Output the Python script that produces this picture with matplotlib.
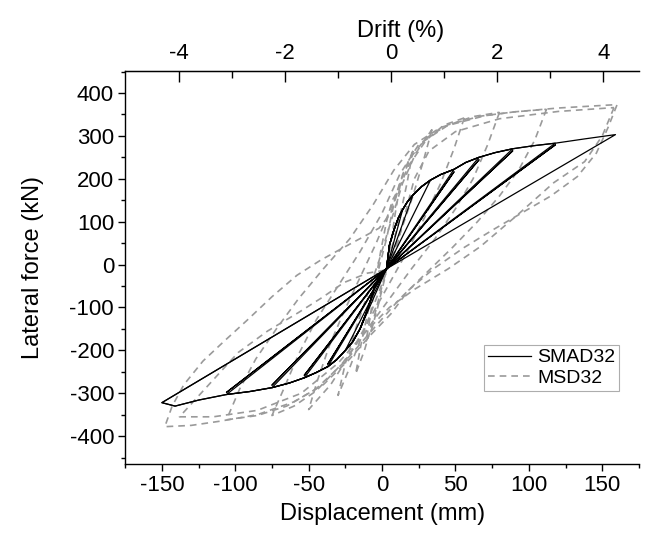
import numpy as np
import matplotlib
matplotlib.use("Agg")
import matplotlib.pyplot as plt
from matplotlib.ticker import MultipleLocator, FixedLocator

plt.rcParams['font.family'] = ['Liberation Sans', 'DejaVu Sans']
plt.rcParams['axes.unicode_minus'] = False

# SMAD32: skeleton (envelope) points, displacement mm / force kN
smad_center = (3, -10)
smad_env_pos_d = [5, 8, 11, 14, 17, 21, 27, 33, 40, 49, 57, 66, 77, 89, 103, 118, 138, 159]
smad_env_pos_f = [45, 80, 108, 128, 145, 162, 182, 197, 210, 222, 238, 250, 261, 270, 277, 283, 293, 303]
smad_env_neg_d = [-5, -8, -11, -15, -20, -25, -31, -37, -45, -53, -63, -75, -90, -106, -125, -141, -150]
smad_env_neg_f = [-50, -85, -115, -150, -180, -200, -222, -238, -252, -264, -276, -287, -296, -303, -316, -330, -322]
# envelope points reached in each cycle (positive, negative)
smad_cycle_pos = [4, 6, 8, 10, 12, 14, 16, 18]
smad_cycle_neg = [4, 6, 8, 10, 12, 14, 17, 17]
# repeated cycles: peak force of the second run at the same amplitude
smad_repeat_pos = [(49, 216), (66, 244), (89, 265), (118, 279)]
smad_repeat_neg = [(-37, -232), (-53, -258), (-75, -281), (-106, -298)]

# MSD32: loops read point by point
msd_loops = [
    [(12, 180), (9, 120), (6, 50), (2, -30), (-3, -100), (-7, -150), (-11, -180), (-8, -120),
     (-5, -50), (-1, 30), (3, 100), (7, 150), (12, 180)],
    [(21, 265), (17, 190), (12, 110), (6, 30), (0, -50), (-6, -130), (-12, -200), (-18, -255),
     (-14, -180), (-9, -100), (-3, -20), (3, 60), (8, 140), (14, 210), (21, 265)],
    [(34, 315), (28, 240), (21, 160), (13, 80), (5, 0), (-4, -80), (-13, -160), (-22, -240),
     (-30, -305), (-25, -230), (-18, -150), (-10, -70), (-2, 10), (6, 100), (14, 190),
     (23, 260), (34, 315)],
    [(56, 342), (49, 270), (40, 190), (29, 110), (17, 30), (4, -50), (-9, -130), (-22, -210),
     (-35, -280), (-50, -338), (-44, -270), (-36, -190), (-26, -110), (-15, -30), (-4, 50),
     (7, 140), (18, 230), (30, 290), (42, 325), (56, 342)],
    [(80, 355), (72, 280), (62, 200), (50, 130), (36, 60), (20, -10), (5, -80), (-10, -150),
     (-27, -230), (-45, -295), (-60, -330), (-75, -352), (-67, -290), (-57, -210), (-45, -130),
     (-30, -50), (-15, 30), (0, 120), (12, 210), (25, 280), (45, 325), (62, 345), (80, 355)],
    [(112, 362), (104, 290), (93, 220), (80, 160), (65, 100), (48, 40), (30, -20), (12, -80),
     (-6, -150), (-25, -225), (-45, -290), (-65, -330), (-85, -352), (-106, -362), (-97, -290),
     (-86, -220), (-72, -150), (-57, -80), (-40, -10), (-22, 60), (-6, 140), (8, 220),
     (22, 280), (40, 320), (70, 347), (90, 356), (112, 362)],
    [(160, 372), (154, 320), (146, 260), (133, 205), (115, 160), (95, 120), (75, 80), (56, 40),
     (35, -10), (18, -60), (6, -115), (-8, -165), (-22, -220), (-40, -280), (-60, -320),
     (-85, -350), (-110, -365), (-130, -375), (-148, -378), (-143, -330), (-135, -280),
     (-122, -225), (-108, -180), (-92, -130), (-75, -75), (-58, -25), (-42, 10), (-25, 42),
     (-12, 66), (-2, 85), (6, 120), (12, 190), (20, 252), (30, 295), (45, 326), (67, 346),
     (90, 356), (120, 365), (160, 373)],
    [(158, 366), (150, 300), (138, 240), (117, 191), (92, 115), (67, 42), (45, -10), (22, -58),
     (5, -100), (-12, -160), (-30, -230), (-55, -300), (-85, -340), (-115, -355), (-138, -355),
     (-118, -280), (-98, -205), (-78, -155), (-57, -112), (-40, -75), (-26, -42), (-10, -20),
     (4, -12), (10, 40), (15, 110), (22, 200), (32, 265), (50, 310), (80, 340), (120, 357),
     (158, 366)],
]

fig = plt.figure(figsize=(6.52, 5.43), dpi=100)
ax = fig.add_axes([0.192, 0.1455, 0.788, 0.7235])

cx, cy = smad_center
for i in range(len(smad_cycle_pos)):
    npos, nneg = smad_cycle_pos[i], smad_cycle_neg[i]
    xs = [cx] + smad_env_pos_d[:npos] + [cx] + smad_env_neg_d[:nneg] + [cx]
    ys = [cy] + smad_env_pos_f[:npos] + [cy] + smad_env_neg_f[:nneg] + [cy]
    ax.plot(xs, ys, color='black', lw=0.9, label='SMAD32' if i == 0 else None, zorder=3)
for (pd_, pf), (nd, nf) in zip(smad_repeat_pos, smad_repeat_neg):
    ax.plot([cx, pd_, cx, nd, cx], [cy, pf, cy, nf, cy], color='black', lw=0.9, zorder=3)

for i, loop in enumerate(msd_loops):
    d, f = zip(*loop)
    ax.plot(d, f, color='#9a9a9a', lw=1.2, ls=(0, (4, 3)),
            label='MSD32' if i == 0 else None, zorder=2)

ax.set_xlim(-175, 175)
ax.set_ylim(-465, 451)
ax.xaxis.set_major_locator(MultipleLocator(50))
ax.xaxis.set_minor_locator(MultipleLocator(25))
ax.yaxis.set_major_locator(MultipleLocator(100))
ax.yaxis.set_minor_locator(MultipleLocator(50))
ax.tick_params(axis='x', which='major', direction='out', length=5, width=1, labelsize=16, pad=3)
ax.tick_params(axis='y', which='major', direction='out', length=5, width=1, labelsize=16, pad=3)
ax.tick_params(which='minor', direction='out', length=3, width=1)
ax.spines['right'].set_visible(False)
for s in ['left', 'bottom', 'top']:
    ax.spines[s].set_linewidth(1.0)
ax.set_xlabel('Displacement (mm)', fontsize=17, labelpad=5)
ax.set_ylabel('Lateral force (kN)', fontsize=17, labelpad=18)

sec = ax.secondary_xaxis('top', functions=(lambda d: (d - 6.1) / 36.15, lambda p: p * 36.15 + 6.1))
sec.xaxis.set_major_locator(FixedLocator([-4, -2, 0, 2, 4]))
sec.xaxis.set_minor_locator(FixedLocator([-3, -1, 1, 3]))
sec.tick_params(which='major', direction='in', length=8, width=1, labelsize=16, pad=5)
sec.tick_params(which='minor', direction='in', length=5, width=1)
fig.text(401 / 652, 1 - 31 / 543, 'Drift (%)', fontsize=17, ha='center', va='center')

leg = ax.legend(loc='upper right', bbox_to_anchor=(0.961, 0.303), fontsize=14,
                frameon=True, fancybox=False, edgecolor='#999999', handlelength=2.2,
                borderpad=0.2, labelspacing=0.15, handletextpad=0.3, borderaxespad=0)
leg.get_frame().set_linewidth(0.8)

fig.savefig('out.png', dpi=100)
